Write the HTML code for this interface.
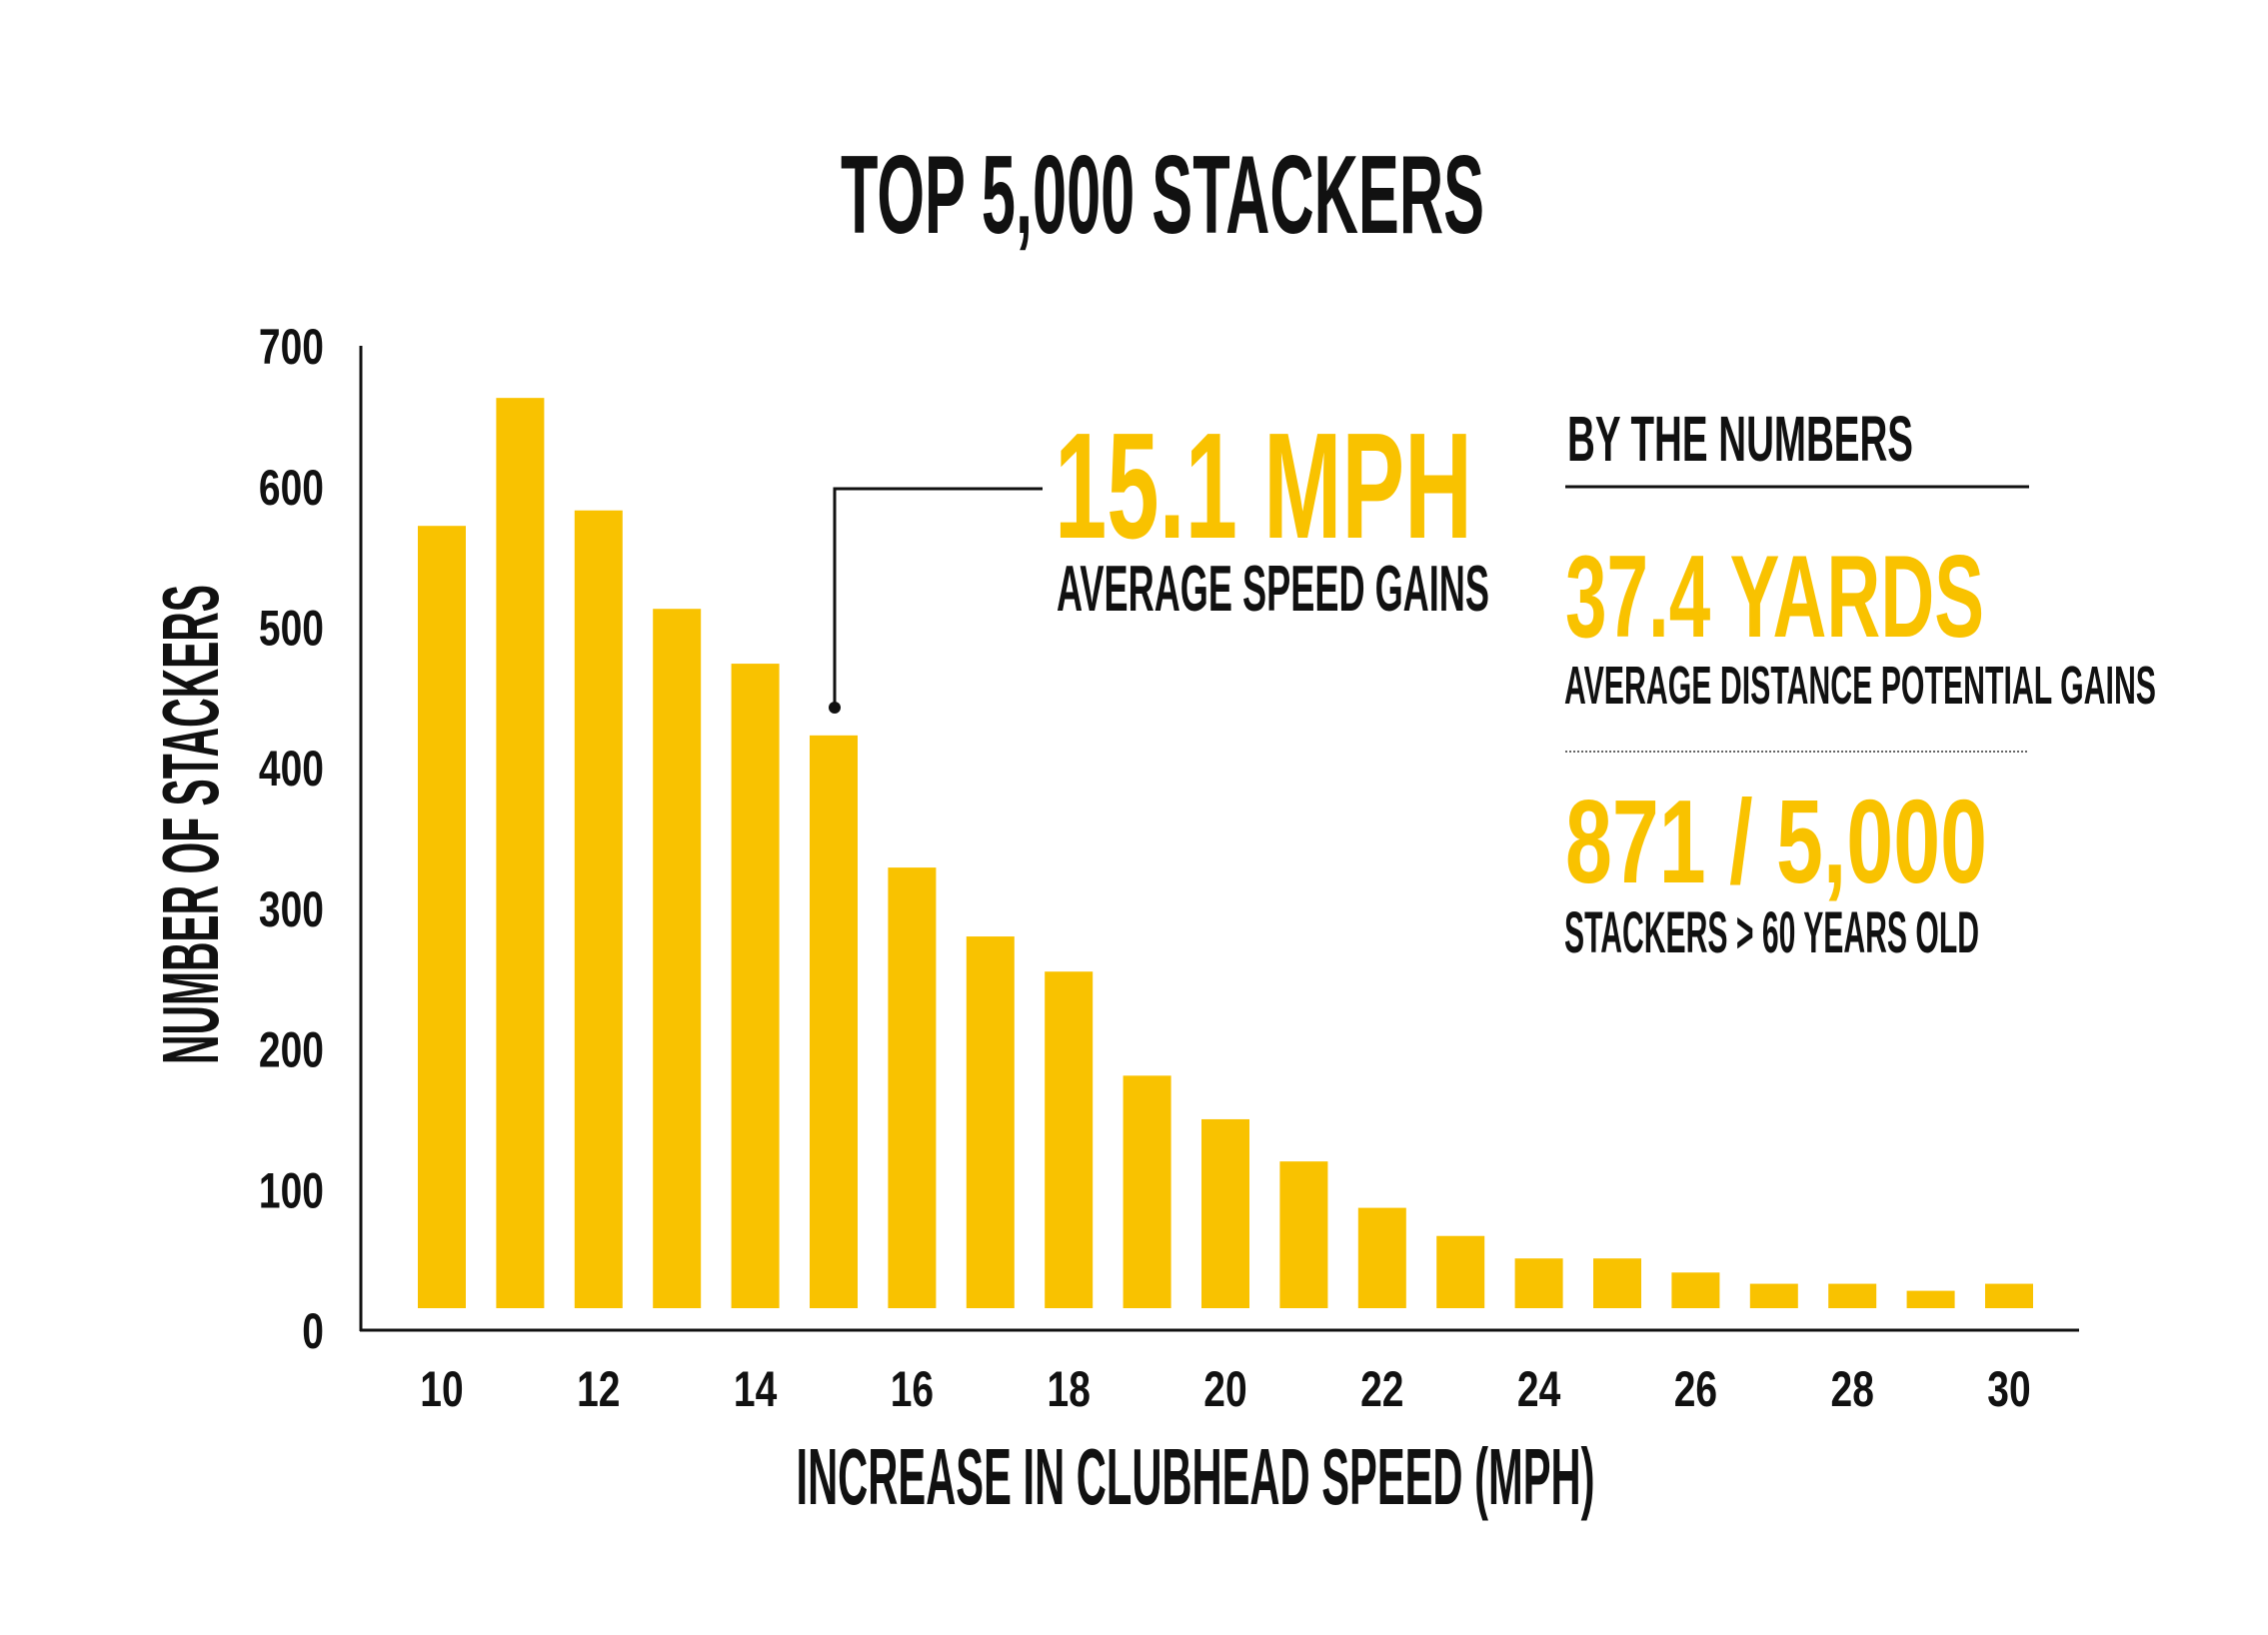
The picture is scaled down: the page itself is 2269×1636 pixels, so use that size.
<!DOCTYPE html>
<html><head><meta charset="utf-8"><style>
html,body{margin:0;padding:0;background:#fff;}
svg{display:block;}
text{font-family:"Liberation Sans",sans-serif;font-weight:bold;}
</style></head><body>
<svg id="chart" width="2269" height="1636" viewBox="0 0 2269 1636">
<text x="841" y="233" font-size="111" textLength="644" lengthAdjust="spacingAndGlyphs" fill="#111">TOP 5,000 STACKERS</text>
<g id="bars"></g>
<g id="axes"></g>
<text transform="translate(218,825) rotate(-90)" text-anchor="middle" font-size="80" textLength="480" lengthAdjust="spacingAndGlyphs" fill="#111">NUMBER OF STACKERS</text>
<text x="1196" y="1505" text-anchor="middle" font-size="80" textLength="799" lengthAdjust="spacingAndGlyphs" fill="#111">INCREASE IN CLUBHEAD SPEED (MPH)</text>
<g>
<polyline points="835,708 835,489 1043,489" fill="none" stroke="#111" stroke-width="3"/>
<circle cx="835" cy="708" r="6" fill="#111"/>
<text x="1055" y="538" font-size="151" textLength="418" lengthAdjust="spacingAndGlyphs" fill="#F9C200">15.1 MPH</text>
<text x="1057" y="611" font-size="65" textLength="433" lengthAdjust="spacingAndGlyphs" fill="#111">AVERAGE SPEED GAINS</text>
</g>
<g>
<text x="1568" y="461" font-size="64" textLength="346" lengthAdjust="spacingAndGlyphs" fill="#111">BY THE NUMBERS</text>
<line x1="1566" y1="487" x2="2030" y2="487" stroke="#111" stroke-width="3"/>
<text x="1566" y="637" font-size="117" textLength="419" lengthAdjust="spacingAndGlyphs" fill="#F9C200">37.4 YARDS</text>
<text x="1565" y="704" font-size="54" textLength="592" lengthAdjust="spacingAndGlyphs" fill="#111">AVERAGE DISTANCE POTENTIAL GAINS</text>
<line x1="1566" y1="752" x2="2030" y2="752" stroke="#666" stroke-width="2" stroke-dasharray="2,2"/>
<text x="1566" y="883" font-size="119" textLength="422" lengthAdjust="spacingAndGlyphs" fill="#F9C200">871 / 5,000</text>
<text x="1565" y="953" font-size="58" textLength="415" lengthAdjust="spacingAndGlyphs" fill="#111">STACKERS &gt; 60 YEARS OLD</text>
</g>
</svg>
<script>
const categories=[10,11,12,13,14,15,16,17,18,19,20,21,22,23,24,25,26,27,28,29,30];
const values=[572,663,583,513,474,423,329,280,255,181,150,120,87,67,51,51,41,33,33,28,33];
const yTicks=[0,100,200,300,400,500,600,700];
const xTicks=[10,12,14,16,18,20,22,24,26,28,30];
const NS="http://www.w3.org/2000/svg";
const y0=1331, yPer=1.407, barBottom=1309;
function yScale(v){return y0-v*yPer;}
function xScale(c){return 442+(c-10)*78.4;}
const bars=document.getElementById('bars');
categories.forEach((c,i)=>{
  const r=document.createElementNS(NS,'rect');
  r.setAttribute('x',xScale(c)-24);
  r.setAttribute('width',48);
  const top=yScale(values[i]);
  r.setAttribute('y',top);
  r.setAttribute('height',Math.max(0,barBottom-top));
  r.setAttribute('fill','#F9C200');
  
  
  bars.appendChild(r);
});
const axes=document.getElementById('axes');
function line(x1,y1,x2,y2,name){
  const l=document.createElementNS(NS,'line');
  l.setAttribute('x1',x1);l.setAttribute('y1',y1);l.setAttribute('x2',x2);l.setAttribute('y2',y2);
  l.setAttribute('stroke','#111');l.setAttribute('stroke-width','3');
  
  
  axes.appendChild(l);
}
line(361,346,361,1332,'y-axis-line');
line(360,1331,2080,1331,'x-axis-line');
yTicks.forEach(t=>{
  const tx=document.createElementNS(NS,'text');
  tx.setAttribute('x',324);tx.setAttribute('y',yScale(t)+18);
  tx.setAttribute('text-anchor','end');tx.setAttribute('font-size','50');
  tx.setAttribute('fill','#111');
  tx.setAttribute('transform','translate(324,0) scale(0.78,1) translate(-324,0)');
  tx.textContent=t;
  
  
  axes.appendChild(tx);
});
xTicks.forEach(t=>{
  const tx=document.createElementNS(NS,'text');
  const x=xScale(t);
  tx.setAttribute('x',x);tx.setAttribute('y',1407);
  tx.setAttribute('text-anchor','middle');tx.setAttribute('font-size','50');
  tx.setAttribute('fill','#111');
  tx.setAttribute('transform','translate('+x+',0) scale(0.78,1) translate('+(-x)+',0)');
  tx.textContent=t;
  
  
  axes.appendChild(tx);
});
</script>
</body></html>
